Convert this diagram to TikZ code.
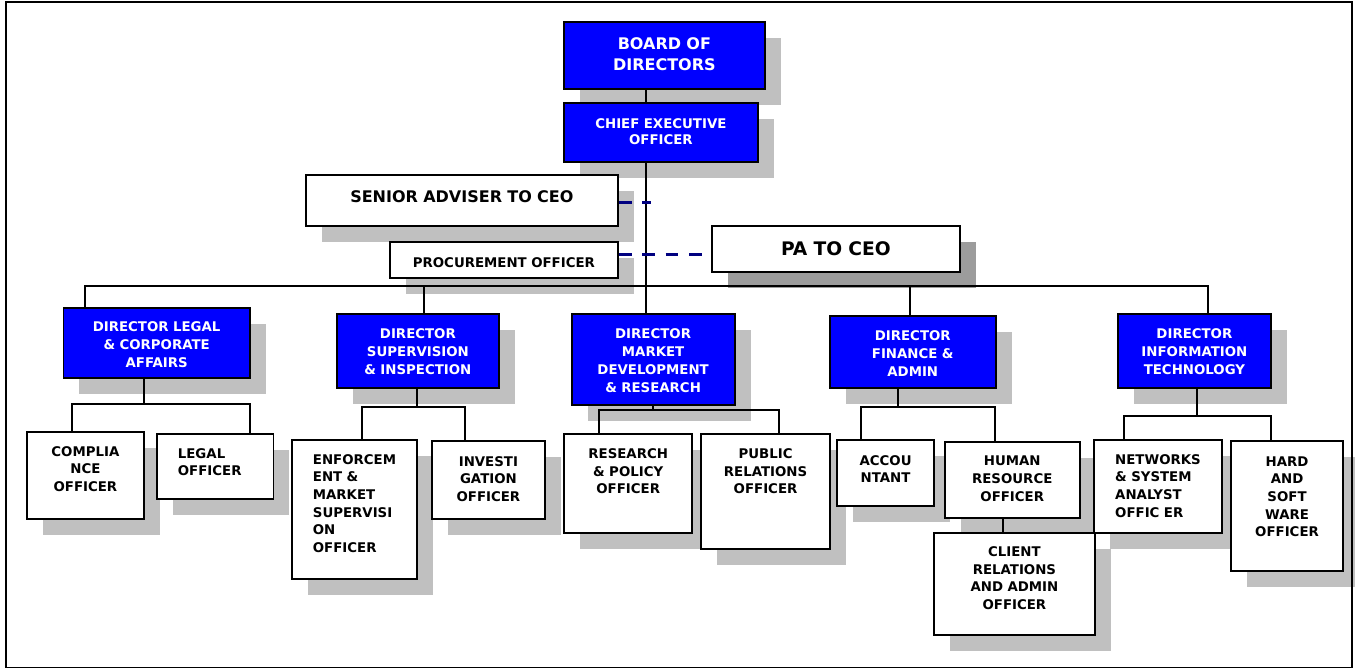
\documentclass[tikz,border=0pt]{standalone}
\usepackage{fontspec}
\setmainfont{DejaVu Sans}
\usetikzlibrary{shadows}
\definecolor{dirblue}{HTML}{0000FF}
\definecolor{linkblue}{HTML}{000080}
\definecolor{shadowgray}{HTML}{C0C0C0}
\definecolor{pagray}{HTML}{9C9C9C}
\hyphenpenalty=10000
\begin{document}
\begin{tikzpicture}[
        x=1pt, y=-1pt,
        boxshadow/.style={drop shadow={shadow xshift=16pt, shadow yshift=-16pt, opacity=1, fill=#1}},
        unitbox/.style={draw, line width=1.8pt, fill=white, inner sep=0pt, anchor=north west,
            align=center, font=\fontsize{13.33}{17.6}\selectfont\bfseries},
        unit/.style={unitbox, boxshadow=shadowgray},
        director/.style={unit, fill=dirblue, text=white, font=\fontsize{13.33}{18}\selectfont\bfseries},
        leftunit/.style={unit, align=left, inner xsep=21pt},
        link/.style={line width=1.9pt},
        dashlink/.style={draw=linkblue, line width=3pt, dash pattern=on 12.7pt off 10.7pt}
    ]
        \useasboundingbox (0,0) rectangle (1355,669);

        % Board and CEO
        \node[director, text width=201pt, text height=28pt, text depth=39pt,
            font=\fontsize{16}{21}\selectfont\bfseries] (board) at (563,21) {BOARD OF\\DIRECTORS};
        \node[director, text width=194pt, text height=25.3pt, text depth=33.7pt,
            font=\fontsize{13.33}{16.7}\selectfont\bfseries] (ceo) at (563,102) {CHIEF EXECUTIVE\\OFFICER};

        % Staff of the CEO
        \node[unit, text width=312pt, text height=27.7pt, text depth=23.3pt,
            font=\fontsize{16}{20}\selectfont\bfseries] (adviser) at (305,174) {SENIOR ADVISER TO CEO};
        \node[unit, text width=228pt, text height=25.4pt, text depth=10.6pt] (procure) at (389,241) {PROCUREMENT OFFICER};
        \node[unitbox, boxshadow=pagray, text width=248pt, text height=30pt, text depth=16pt,
            font=\fontsize{18.67}{22}\selectfont\bfseries] (pa) at (711,225) {PA TO CEO};

        % Directors
        \node[director, text width=186.5pt, text height=24pt, text depth=46.6pt] (dlegal) at (62.5,306.7) {DIRECTOR LEGAL\\\& CORPORATE\\AFFAIRS};
        \node[director, text width=162pt, text height=24.6pt, text depth=49.7pt] (dsuper) at (336,312.7) {DIRECTOR\\SUPERVISION\\\& INSPECTION};
        \node[director, text width=163pt, text height=24.7pt, text depth=66.6pt] (dmarket) at (570.7,313) {DIRECTOR\\MARKET\\DEVELOPMENT\\\& RESEARCH};
        \node[director, text width=166.3pt, text height=25pt, text depth=47.3pt] (dfinance) at (828.7,314.7) {DIRECTOR\\FINANCE \&\\ADMIN};
        \node[director, text width=153.6pt, text height=24.6pt, text depth=49.7pt] (dit) at (1116.7,312.7) {DIRECTOR\\INFORMATION\\TECHNOLOGY};

        % Officers
        \node[unit, text width=117pt, text height=24.3pt, text depth=62.4pt] (comply) at (26,431) {COMPLIA\\NCE\\OFFICER};
        \node[leftunit, text width=74.5pt, text height=24.6pt, text depth=40.7pt] (legal) at (156,432.7) {LEGAL\\OFFICER};
        \node[leftunit, text width=83pt, text height=24.3pt, text depth=114.7pt] (enforce) at (291,439) {ENFORCEM\\ENT \&\\MARKET\\SUPERVISI\\ON\\OFFICER};
        \node[unit, text width=113pt, text height=25.3pt, text depth=52.4pt] (investig) at (431,440) {INVESTI\\GATION\\OFFICER};
        \node[unit, text width=128pt, text height=24.7pt, text depth=74.3pt] (research) at (563.3,433) {RESEARCH\\\& POLICY\\OFFICER};
        \node[unit, text width=129.3pt, text height=24.7pt, text depth=90pt] (pubrel) at (700,433) {PUBLIC\\RELATIONS\\OFFICER};
        \node[unit, text width=97.3pt, text height=25pt, text depth=40.7pt,
            font=\fontsize{13.33}{17}\selectfont\bfseries] (account) at (836,439.3) {ACCOU\\NTANT};
        \node[unit, text width=135.3pt, text height=24.3pt, text depth=52.3pt] (hr) at (943.7,440.7) {HUMAN\\RESOURCE\\OFFICER};
        \node[unit, text width=161pt, text height=24pt, text depth=78.3pt] (client) at (933,531.7) {CLIENT\\RELATIONS\\AND ADMIN\\OFFICER};
        \node[leftunit, text width=85.4pt, text height=24.6pt, text depth=68.4pt] (network) at (1093.3,438.7) {NETWORKS\\\& SYSTEM\\ANALYST\\OFFIC ER};
        \node[unit, text width=112.3pt, text height=25pt, text depth=104.7pt] (hardsoft) at (1230,440.3) {HARD\\AND\\SOFT\\WARE\\OFFICER};

        % Main line and bus
        \coordinate (spine) at (646,0);
        \coordinate (bus) at (0,286);
        \draw[link] (board.south -| spine) -- (ceo.north -| spine);
        \draw[link] (ceo.south -| spine) -- (dmarket.north -| spine);
        \draw[link] ([xshift=-71.75pt]dlegal.north) -- ([xshift=-71.75pt]dlegal.north |- bus)
            -- ([xshift=13.5pt]dit.north |- bus) -- ([xshift=13.5pt]dit.north);
        \draw[link] ([xshift=6pt]dsuper.north) -- ([xshift=6pt]dsuper.north |- bus);
        \draw[link] ([xshift=-2.85pt]dfinance.north) -- ([xshift=-2.85pt]dfinance.north |- bus);

        % Dashed links to the staff
        \coordinate (adviserend) at (651,202.7);
        \draw[dashlink] (adviser.east |- adviserend) -- (adviserend);
        \draw[dashlink] ([yshift=5pt]procure.east) -- ([yshift=5pt]procure.east -| pa.west);

        % Legal & corporate affairs
        \coordinate (legalbar) at (0,404.3);
        \draw[link] ([xshift=-12.75pt]dlegal.south) -- ([xshift=-12.75pt]dlegal.south |- legalbar);
        \draw[link] ([xshift=-13.1pt]comply.north) |- ([xshift=34.75pt]legal.north |- legalbar) -- ([xshift=34.75pt]legal.north);

        % Supervision & inspection
        \coordinate (superbar) at (0,407.3);
        \draw[link] ([xshift=-1pt]dsuper.south) -- ([xshift=-1pt]dsuper.south |- superbar);
        \draw[link] ([xshift=7.9pt]enforce.north) |- ([xshift=-23.2pt]investig.north |- superbar) -- ([xshift=-23.2pt]investig.north);

        % Market development & research
        \coordinate (marketbar) at (0,410.3);
        \draw[link] (dmarket.south) -- (dmarket.south |- marketbar);
        \draw[link] ([xshift=-29.3pt]research.north) |- ([xshift=13.35pt]pubrel.north |- marketbar) -- ([xshift=13.35pt]pubrel.north);

        % Finance & admin
        \coordinate (financebar) at (0,407.3);
        \draw[link] ([xshift=-15.15pt]dfinance.south) -- ([xshift=-15.15pt]dfinance.south |- financebar);
        \draw[link] ([xshift=-24.95pt]account.north) |- ([xshift=-17.05pt]hr.north |- financebar) -- ([xshift=-17.05pt]hr.north);
        \draw[link] ([xshift=-9.65pt]hr.south) -- ([xshift=-9.65pt]hr.south |- client.north);

        % Information technology
        \coordinate (itbar) at (0,415.7);
        \draw[link] ([xshift=2.2pt]dit.south) -- ([xshift=2.2pt]dit.south |- itbar);
        \draw[link] ([xshift=-34pt]network.north) |- ([xshift=-16.45pt]hardsoft.north |- itbar) -- ([xshift=-16.45pt]hardsoft.north);

        % Frame
        \draw[line width=1.8pt] (6,2) rectangle (1351.7,667.5);
    \end{tikzpicture}
\end{document}
